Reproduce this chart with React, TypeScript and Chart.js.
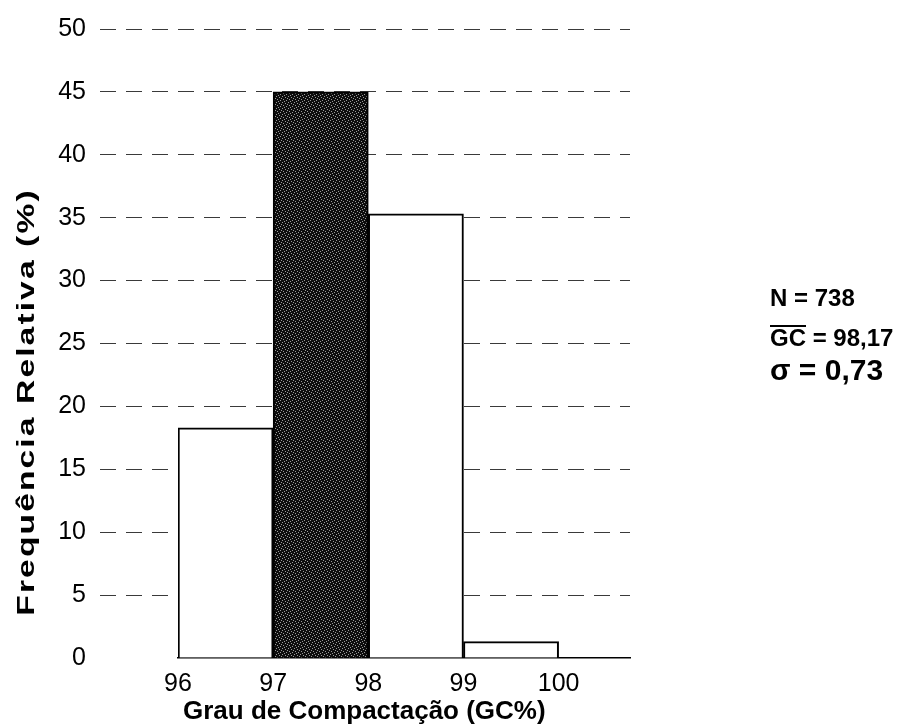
import React, { useEffect, useRef } from "react";
import { Chart, registerables } from "chart.js";

Chart.register(...registerables);

const binStarts = [96, 97, 98, 99];
const frequencies = [18.3, 45, 35.3, 1.3];
const xTickValues = [96, 97, 98, 99, 100];
const yTickValues = [0, 5, 10, 15, 20, 25, 30, 35, 40, 45, 50];
const xTitle = "Grau de Compactação (GC%)";
const yTitle = "Frequência Relativa (%)";
const statN = "N = 738";
const statMeanLabel = "GC";
const statMeanValue = " = 98,17";
const statSigma = "σ = 0,73";

const FONT = "'Liberation Sans', Arial, sans-serif";

function makePattern(): CanvasPattern | string {
  const c = document.createElement("canvas");
  c.width = 6;
  c.height = 6;
  const g = c.getContext("2d");
  if (!g) return "#222";
  g.fillStyle = "#0d0d0d";
  g.fillRect(0, 0, 6, 6);
  g.fillStyle = "#9a9a9a";
  const dots = [
    [0, 0], [3, 1], [1, 3], [4, 4], [5, 2], [2, 5],
  ];
  dots.forEach(([x, y]) => g.fillRect(x, y, 1, 1));
  const p = g.createPattern(c, "repeat");
  return p || "#222";
}

const textPlugin = {
  id: "textPlugin",
  afterDraw(chart: any) {
    const ctx = chart.ctx as CanvasRenderingContext2D;
    ctx.save();
    ctx.fillStyle = "#000";
    ctx.strokeStyle = "#000";
    // x title
    ctx.font = `bold 26px ${FONT}`;
    ctx.textAlign = "left";
    ctx.textBaseline = "alphabetic";
    ctx.fillText(xTitle, 183, 719);
    // y title
    ctx.save();
    ctx.translate(34, 402);
    ctx.rotate(-Math.PI / 2);
    ctx.scale(1.4, 1);
    ctx.font = `bold 24px ${FONT}`;
    (ctx as any).letterSpacing = "1.5px";
    ctx.textAlign = "center";
    ctx.fillText(yTitle, 0, 0);
    ctx.restore();
    // stats
    ctx.textAlign = "left";
    ctx.textBaseline = "middle";
    ctx.font = `bold 24px ${FONT}`;
    ctx.fillText(statN, 770, 299);
    ctx.fillText(statMeanLabel + statMeanValue, 770, 339);
    const w = ctx.measureText(statMeanLabel).width;
    ctx.lineWidth = 2;
    ctx.beginPath();
    ctx.moveTo(770, 326);
    ctx.lineTo(770 + w, 326);
    ctx.stroke();
    ctx.font = `bold 30px ${FONT}`;
    ctx.fillText(statSigma, 770, 372);
    ctx.restore();
  },
};

export default function App() {
  const ref = useRef<HTMLCanvasElement>(null);
  useEffect(() => {
    if (!ref.current) return;
    const pattern = makePattern();
    const data = binStarts.map((s, i) => ({ x: s + 0.5, y: frequencies[i] }));
    const bg = binStarts.map((_, i) => (i === 1 ? pattern : "#ffffff"));
    const chart = new Chart(ref.current, {
      type: "bar",
      data: {
        datasets: [
          {
            data: data as any,
            backgroundColor: bg as any,
            borderColor: "#000",
            borderWidth: 2,
            barPercentage: 1,
            categoryPercentage: 1,
          },
        ],
      },
      options: {
        animation: false,
        responsive: false,
        devicePixelRatio: 1,
        layout: { padding: { left: 0, right: 282, top: 20, bottom: 0 } },
        plugins: {
          legend: { display: false },
          tooltip: { enabled: false },
        },
        scales: {
          x: {
            type: "linear",
            min: 96,
            max: 100.75,
            offset: false,
            grid: { display: false, drawTicks: false, offset: false },
            border: { display: true, color: "#000", width: 1.5 },
            afterBuildTicks: (scale: any) => {
              scale.ticks = xTickValues.map((v) => ({ value: v }));
            },
            afterFit: (scale: any) => {
              scale.height = 68;
            },
            ticks: {
              color: "#000",
              padding: 11,
              maxRotation: 0,
              autoSkip: false,
              font: { family: FONT, size: 25 },
              callback: (v: any) => String(v),
            },
          },
          y: {
            type: "linear",
            min: 0,
            max: 50,
            border: { display: false, dash: [16, 10] },
            grid: {
              color: (c: any) => (c.tick && c.tick.value === 0 ? "rgba(0,0,0,0)" : "#3a3a3a"),
              lineWidth: 1,
              tickLength: 78,
              tickBorderDash: [16, 10],
            },
            afterBuildTicks: (scale: any) => {
              scale.ticks = yTickValues.map((v) => ({ value: v }));
            },
            afterFit: (scale: any) => {
              scale.width = 178;
            },
            ticks: {
              color: "#000",
              padding: 14,
              font: { family: FONT, size: 25 },
            },
          },
        },
      },
      plugins: [textPlugin],
    } as any);
    return () => chart.destroy();
  }, []);
  return (
    <div style={{ position: "absolute", left: 0, top: 0, width: 912, height: 726, background: "#fff" }}>
      <canvas ref={ref} width={912} height={726} style={{ display: "block" }} />
    </div>
  );
}
